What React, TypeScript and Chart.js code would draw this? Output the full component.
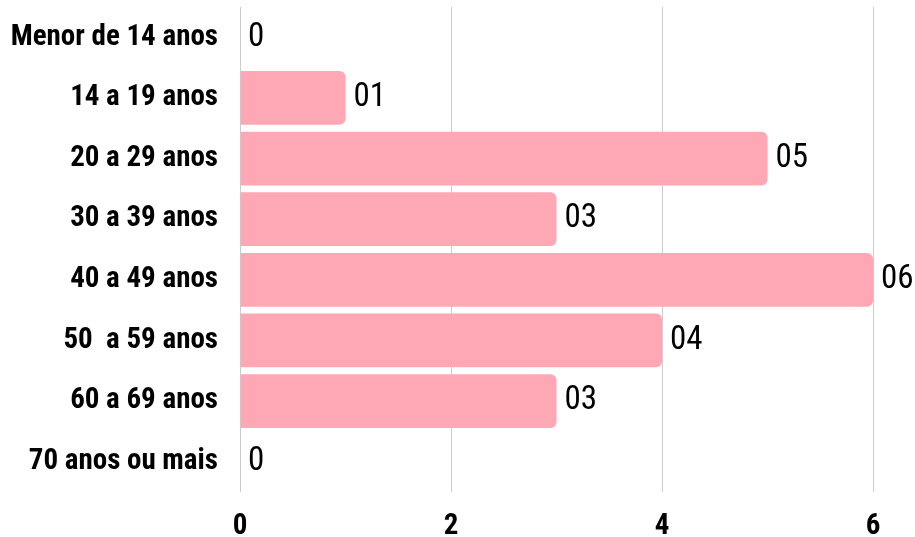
import React, { useEffect, useRef } from "react";
import { Chart, registerables } from "chart.js";

Chart.register(...registerables);

const categories = [
  "Menor de 14 anos",
  "14 a 19 anos",
  "20 a 29 anos",
  "30 a 39 anos",
  "40 a 49 anos",
  "50  a 59 anos",
  "60 a 69 anos",
  "70 anos ou mais",
];
const values = [0, 1, 5, 3, 6, 4, 3, 0];
const valueLabels = ["0", "01", "05", "03", "06", "04", "03", "0"];
const xTicks = [0, 2, 4, 6];

const FONT = '"Roboto Condensed", "Liberation Sans Narrow", "DejaVu Sans Condensed", sans-serif';

const valueLabelPlugin = {
  id: "valueLabels",
  afterDatasetsDraw(chart: any) {
    const ctx = chart.ctx;
    const meta = chart.getDatasetMeta(0);
    ctx.save();
    ctx.font = `normal 33px ${FONT}`;
    ctx.fillStyle = "#000";
    ctx.textAlign = "left";
    ctx.textBaseline = "middle";
    meta.data.forEach((el: any, i: number) => {
      ctx.fillText(valueLabels[i], el.x + 8, el.y);
    });
    ctx.restore();
  },
};

export default function App() {
  const ref = useRef<HTMLCanvasElement>(null);
  useEffect(() => {
    document.body.style.margin = "0";
    const chart = new Chart(ref.current!, {
      type: "bar",
      data: {
        labels: categories,
        datasets: [
          {
            data: values,
            backgroundColor: "#ffa8b5",
            borderRadius: 6,
            borderSkipped: "start",
            categoryPercentage: 1,
            barPercentage: 0.885,
          },
        ],
      },
      options: {
        indexAxis: "y",
        animation: false,
        responsive: false,
        layout: { padding: { top: 7, right: 42, left: 0, bottom: 0 } },
        plugins: { legend: { display: false }, tooltip: { enabled: false } },
        scales: {
          x: {
            min: 0,
            max: 6,
            afterBuildTicks: (scale: any) => {
              scale.ticks = xTicks.map((v) => ({ value: v }));
            },
            afterFit: (scale: any) => {
              scale.height = 45;
              scale.paddingLeft = 0;
              scale.paddingRight = 0;
            },
            grid: { color: "#cccccc", drawTicks: false, lineWidth: 1 },
            border: { display: false },
            ticks: {
              padding: 17,
              color: "#000",
              font: { family: FONT, size: 29, weight: "bold" },
            },
          },
          y: {
            afterFit: (scale: any) => {
              scale.width = 240;
              scale.paddingTop = 0;
              scale.paddingBottom = 0;
            },
            grid: { display: false, drawTicks: false },
            border: { display: false },
            ticks: {
              padding: 22,
              color: "#000",
              font: { family: FONT, size: 29, weight: "bold" },
            },
          },
        },
      },
      plugins: [valueLabelPlugin],
    });
    return () => chart.destroy();
  }, []);
  return (
    <div style={{ width: 915, height: 537 }}>
      <canvas ref={ref} width={915} height={537} style={{ display: "block" }} />
    </div>
  );
}
